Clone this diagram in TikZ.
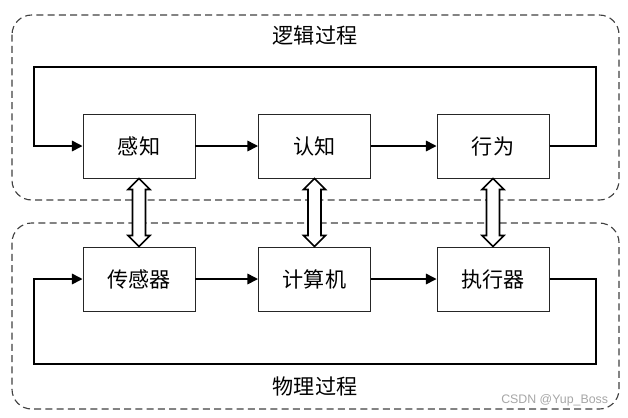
\documentclass[tikz,border=0pt]{standalone}
\usepackage{fontspec}
\newfontfamily\cjk{Noto Sans CJK SC}
\newfontfamily\wmfont{Liberation Sans}
\usetikzlibrary{arrows.meta,calc}

% hollow two-way arrow between the bottom of #1 and the top of #2
\newcommand\linkarrow[2]{%
  \draw[line width=1.1pt,fill=white] (#1.south) -- ++(11,11) -- ++(-4.5,0)
    -- ($(#2.north)+(6.5,-11)$) -- ++(4.5,0) -- (#2.north) -- ++(-11,-11)
    -- ++(4.5,0) -- ($(#1.south)+(-6.5,11)$) -- ++(-4.5,0) -- cycle;}

\begin{document}
\begin{tikzpicture}[x=0.025cm,y=-0.025cm,
    block/.style={draw=black!85,line width=0.7pt,minimum width=112*0.025cm,minimum height=64*0.025cm,
                  font=\cjk\fontsize{15}{18}\selectfont},
    flow/.style={line width=1.1pt,-{Triangle[length=7.5pt,width=7.5pt]}},
    region/.style={draw=black!75,line width=0.8pt,dash pattern=on 5pt off 3pt,rounded corners=14pt},
    title/.style={font=\cjk\fontsize{15}{18}\selectfont}]
  \useasboundingbox (0,0) rectangle (628,417);

  % dashed regions
  \draw[region] (12,15) rectangle (619,200);
  \draw[region] (12,223) rectangle (619,409);
  \node[title] (luoji) at (315,35) {逻辑过程};
  \node[title] (wuli) at (315,386) {物理过程};

  % upper row
  \node[block] (ganzhi) at (139,146) {感知};
  \node[block] (renzhi) at (314.5,146) {认知};
  \node[block] (xingwei) at (493,146) {行为};

  % lower row
  \node[block] (cgq) at (139,279) {传感器};
  \node[block] (jsj) at (314.5,279) {计算机};
  \node[block] (zxq) at (493,279) {执行器};

  \draw[flow] (ganzhi) -- (renzhi);
  \draw[flow] (renzhi) -- (xingwei);
  \draw[flow] (xingwei.east) -| (596,67) -- (34,67) |- (ganzhi.west);

  \draw[flow] (cgq) -- (jsj);
  \draw[flow] (jsj) -- (zxq);
  \draw[flow] (zxq.east) -| (596,364) -- (34,364) |- (cgq.west);

  \linkarrow{ganzhi}{cgq}
  \linkarrow{renzhi}{jsj}
  \linkarrow{xingwei}{zxq}

  \node[font=\wmfont\fontsize{8.8}{10}\selectfont,text=black!35,anchor=east] (mark) at (613,400) {CSDN @Yup\_Boss};
\end{tikzpicture}
\end{document}
